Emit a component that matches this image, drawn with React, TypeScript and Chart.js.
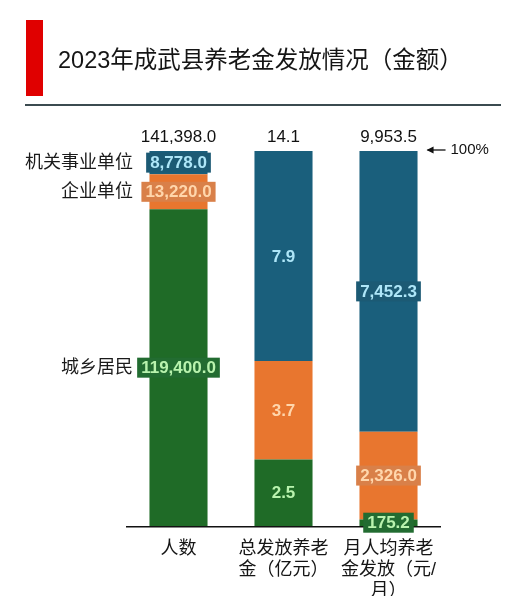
import React, { useEffect, useRef } from "react";
import { Chart, registerables } from "chart.js";

Chart.register(...registerables);

const TITLE = "2023年成武县养老金发放情况（金额）";
const CATEGORIES: string[][] = [["人数"], ["总发放养老", "金（亿元）"], ["月人均养老", "金发放（元/", "月）"]];
const SERIES_NAMES = ["城乡居民", "企业单位", "机关事业单位"];
const RESIDENTS = [119400.0, 2.5, 175.2];
const ENTERPRISE = [13220.0, 3.7, 2326.0];
const INSTITUTIONS = [8778.0, 7.9, 7452.3];
const SERIES_COLORS = ["#1f6b27", "#e8762f", "#1a5f7c"];
const BOX_COLORS = ["#226c31", "#d98049", "#1c5a74"];
const TEXT_COLORS = ["#b9f3ae", "#ffd6ac", "#aee6f8"];
const TOP_NOTE = "100%";

const FONT = "'Liberation Sans', 'Noto Sans CJK SC', sans-serif";

const seriesValues = [RESIDENTS, ENTERPRISE, INSTITUTIONS];
const totals = CATEGORIES.map((_, j) => seriesValues.reduce((s, arr) => s + arr[j], 0));
const percentOf = (arr: number[]) => arr.map((v, j) => (v / totals[j]) * 100);

const fmt = (v: number) =>
  v.toLocaleString("en-US", { minimumFractionDigits: 1, maximumFractionDigits: 1 });

const labelsPlugin = {
  id: "customLabels",
  afterDatasetsDraw(chart: any) {
    const ctx: CanvasRenderingContext2D = chart.ctx;
    const area = chart.chartArea;
    ctx.save();

    // Title block
    ctx.fillStyle = "#e00000";
    ctx.fillRect(26, 20, 17, 76);
    ctx.fillStyle = "#151515";
    ctx.font = `23.5px ${FONT}`;
    ctx.textAlign = "left";
    ctx.textBaseline = "middle";
    ctx.fillText(TITLE, 58, 62);
    ctx.fillStyle = "#3b4b50";
    ctx.fillRect(25, 104, 476, 2);

    // Baseline
    ctx.fillStyle = "#111";
    ctx.fillRect(area.left, area.bottom, area.right - area.left, 1.5);

    // Segment labels
    ctx.font = `bold 17px ${FONT}`;
    ctx.textBaseline = "middle";
    ctx.textAlign = "center";
    chart.data.datasets.forEach((ds: any, i: number) => {
      const meta = chart.getDatasetMeta(i);
      meta.data.forEach((bar: any, j: number) => {
        const raw = seriesValues[i][j];
        const label = j === 1 ? raw.toFixed(1) : fmt(raw);
        const cy = (bar.y + bar.base) / 2;
        const w = ctx.measureText(label).width;
        if (j !== 1) {
          ctx.fillStyle = BOX_COLORS[i];
          ctx.fillRect(bar.x - w / 2 - 4, cy - 10, w + 8, 20);
        }
        ctx.fillStyle = TEXT_COLORS[i];
        ctx.fillText(label, bar.x, cy + 1);
      });
    });

    // Totals above bars
    const meta0 = chart.getDatasetMeta(0);
    ctx.font = `17px ${FONT}`;
    ctx.fillStyle = "#111";
    meta0.data.forEach((bar: any, j: number) => {
      const label = j === 1 ? totals[j].toFixed(1) : fmt(totals[j]);
      ctx.fillText(label, bar.x, area.top - 14);
    });

    // Series names to the left of the first bar
    ctx.font = `18px ${FONT}`;
    ctx.textAlign = "right";
    chart.data.datasets.forEach((ds: any, i: number) => {
      const bar = chart.getDatasetMeta(i).data[0];
      const cy = (bar.y + bar.base) / 2;
      ctx.fillStyle = "#1a1a1a";
      ctx.fillText(SERIES_NAMES[i], 133, cy);
    });

    // Category labels
    ctx.textAlign = "center";
    ctx.fillStyle = "#151515";
    meta0.data.forEach((bar: any, j: number) => {
      CATEGORIES[j].forEach((line, k) => {
        ctx.fillText(line, bar.x, area.bottom + 23 + k * 21);
      });
    });

    // 100% note
    const lastBar = meta0.data[meta0.data.length - 1];
    const ax = lastBar.x + lastBar.width / 2 + 10;
    const ay = area.top - 1;
    ctx.strokeStyle = "#111";
    ctx.lineWidth = 1.3;
    ctx.beginPath();
    ctx.moveTo(ax, ay);
    ctx.lineTo(ax + 18, ay);
    ctx.stroke();
    ctx.fillStyle = "#111";
    ctx.beginPath();
    ctx.moveTo(ax - 1, ay);
    ctx.lineTo(ax + 6, ay - 3.5);
    ctx.lineTo(ax + 6, ay + 3.5);
    ctx.closePath();
    ctx.fill();
    ctx.font = `15px ${FONT}`;
    ctx.textAlign = "left";
    ctx.fillText(TOP_NOTE, ax + 23, ay);

    ctx.restore();
  },
};

export default function App() {
  const ref = useRef<HTMLCanvasElement | null>(null);
  useEffect(() => {
    if (!ref.current) return;
    const chart = new Chart(ref.current, {
      type: "bar",
      data: {
        labels: CATEGORIES.map((c) => c.join("")),
        datasets: SERIES_NAMES.map((name, i) => ({
          label: name,
          data: percentOf(seriesValues[i]),
          backgroundColor: SERIES_COLORS[i],
          borderWidth: 0,
          barPercentage: 0.553,
          categoryPercentage: 1,
        })),
      },
      options: {
        responsive: false,
        animation: false,
        layout: { padding: { left: 126, right: 85, top: 151, bottom: 70 } },
        plugins: { legend: { display: false }, tooltip: { enabled: false }, title: { display: false } },
        scales: {
          x: { stacked: true, display: false },
          y: { stacked: true, display: false, min: 0, max: 100 },
        },
      },
      plugins: [labelsPlugin],
    });
    return () => chart.destroy();
  }, []);
  return (
    <div style={{ position: "absolute", left: 0, top: 0, width: 526, height: 596, background: "#fff" }}>
      <canvas ref={ref} width={526} height={596} />
    </div>
  );
}
